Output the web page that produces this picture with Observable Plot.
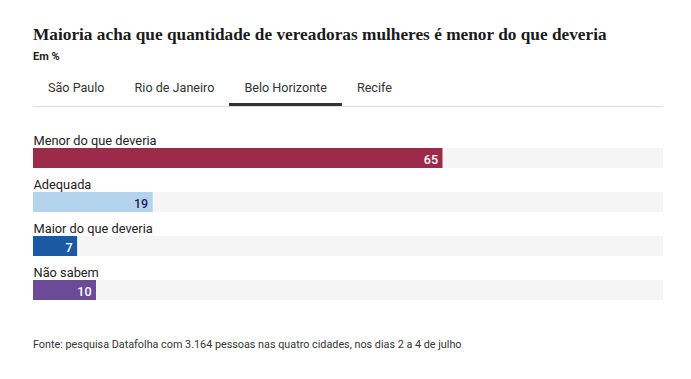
<!DOCTYPE html>
<html><head><meta charset="utf-8">
<script src="https://cdn.jsdelivr.net/npm/d3@7"></script>
<script src="https://cdn.jsdelivr.net/npm/@observablehq/plot@0.6"></script>
<style>
body{margin:0;background:#fff;width:691px;height:379px;position:relative;overflow:hidden;font-family:Roboto,"Noto Sans",sans-serif;color:#222}
#title{position:absolute;left:33px;top:25px;font-family:"Liberation Serif",serif;font-weight:bold;font-size:17.3px;color:#1a1a1a;white-space:nowrap}
#sub{position:absolute;left:33px;top:50px;font-size:11px;font-weight:bold;color:#222}
#tabs{position:absolute;left:33px;top:78px;width:630px;height:28px;border-bottom:1px solid #ddd;display:flex}
.tab{padding:0 15px;font-size:12.6px;color:#333;height:25px;line-height:20px;box-sizing:content-box}
.tab.sel{border-bottom:3px solid #333}
#chart{position:absolute;left:0;top:120px}
#foot{position:absolute;left:33px;top:338px;font-size:10.8px;color:#333;white-space:nowrap}
</style></head>
<body>
<div id="title"></div>
<div id="sub"></div>
<div id="tabs"></div>
<div id="chart"></div>
<div id="foot"></div>
<script>
const titleText = "Maioria acha que quantidade de vereadoras mulheres é menor do que deveria";
const subtitleText = "Em %";
const tabNames = ["São Paulo", "Rio de Janeiro", "Belo Horizonte", "Recife"];
const selectedTab = "Belo Horizonte";
const categories = ["Menor do que deveria", "Adequada", "Maior do que deveria", "Não sabem"];
const values = [65, 19, 7, 10];
const barColors = ["#9c2a4a", "#b4d3ef", "#1a5aa3", "#6c4a97"];
const labelColors = ["#ffffff", "#1d1d5c", "#ffffff", "#ffffff"];
const sourceText = "Fonte: pesquisa Datafolha com 3.164 pessoas nas quatro cidades, nos dias 2 a 4 de julho";

document.getElementById("title").textContent = titleText;
document.getElementById("sub").textContent = subtitleText;
document.getElementById("foot").textContent = sourceText;
const tabs = document.getElementById("tabs");
tabNames.forEach(t => {
  const d = document.createElement("div");
  d.className = "tab" + (t === selectedTab ? " sel" : "");
  d.textContent = t;
  tabs.appendChild(d);
});

const data = categories.map((c, i) => ({cat: c, value: values[i], color: barColors[i], lc: labelColors[i]}));

const chart = Plot.plot({
  width: 691,
  height: 190,
  marginLeft: 33,
  marginRight: 28,
  marginTop: 6,
  marginBottom: 8,
  style: {fontFamily: "Roboto, 'Noto Sans', sans-serif", background: "transparent"},
  x: {domain: [0, 100], axis: null},
  y: {domain: categories, axis: null, paddingInner: 0, paddingOuter: 0},
  marks: [
    Plot.barX(data, {x1: 0, x2: 100, y: "cat", fill: "#f5f5f5", insetTop: 22, insetBottom: 2}),
    Plot.barX(data, {x1: 0, x2: "value", y: "cat", fill: "color", insetTop: 22, insetBottom: 2}),
    Plot.text(data, {x: 0, y: "cat", text: "cat", textAnchor: "start", dy: -8, fontSize: 12.8, fill: "#222"}),
    Plot.text(data, {x: "value", y: "cat", text: d => String(d.value), textAnchor: "end", dx: -5, dy: 11, fontSize: 12.5, fontWeight: 500, fill: "lc"})
  ]
});
document.getElementById("chart").appendChild(chart);
</script>
</body></html>
